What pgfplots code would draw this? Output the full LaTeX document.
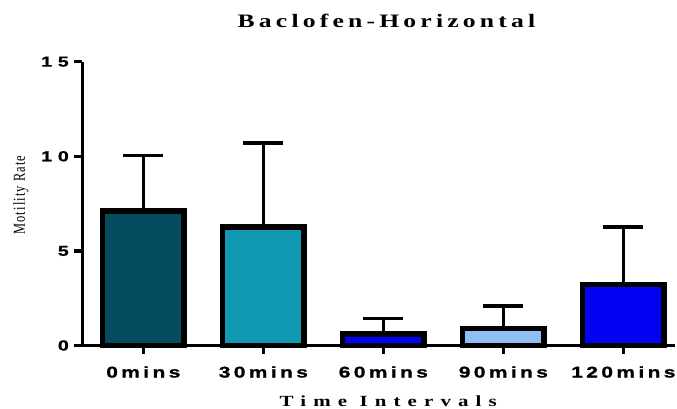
\documentclass[border=0pt]{standalone}
\usepackage{fontspec}
\usepackage{graphicx}
\usepackage{pgfplots}
\pgfplotsset{compat=1.18}
\setmainfont{Liberation Serif}
\newfontfamily\tickfont[FakeStretch=1.35,LetterSpace=22,FakeBold=1.2]{Liberation Sans Bold}
\newfontfamily\ytickfont[FakeStretch=1.35,LetterSpace=40,FakeBold=1.2]{Liberation Sans Bold}
\newfontfamily\titlefont[FakeStretch=1.35,LetterSpace=22]{Liberation Serif}
\newfontfamily\xlabfont[FakeStretch=1.35,LetterSpace=46]{Liberation Serif}
\newfontfamily\ylabfont[LetterSpace=9]{Liberation Serif}
\definecolor{c1}{RGB}{5,76,94}
\definecolor{c2}{RGB}{17,153,179}
\definecolor{c3}{RGB}{2,2,250}
\definecolor{c4}{RGB}{143,190,245}
\definecolor{c5}{RGB}{2,2,245}
\begin{document}
\begin{tikzpicture}
\begin{axis}[
  scale only axis,
  width=592.5bp, height=283.8bp,
  xmin=-0.507, xmax=4.43,
  ymin=0, ymax=15,
  clip=false,
  axis x line*=bottom,
  axis y line*=left,
  axis line style={line width=3.5bp, black},
  every tick/.style={line width=3.5bp, black},
  tick align=outside,
  major tick length=8bp,
  ytick={0,5,10,15},
  yticklabels={0,5,10,15},
  xtick={0,1,2,3,4},
  xticklabels={0mins,30mins,60mins,90mins,120mins},
  yticklabel style={font=\ytickfont\fontsize{14.5bp}{15bp}\selectfont, anchor=east, inner sep=0pt, xshift=-5.5bp},
  xticklabel style={font=\tickfont\fontsize{15.5bp}{16bp}\selectfont, anchor=base, inner sep=0pt, yshift=-24bp},
  ybar, bar width=0.68, bar shift=0pt,
  every axis plot/.append style={draw=black, line width=5.5bp},
  error bars/y dir=plus,
  error bars/y explicit,
  error bars/error mark=|,
  error bars/error bar style={line width=3.5bp, black},
  error bars/error mark options={line width=3.5bp, black, mark size=20bp},
]
\addplot[fill=c1] coordinates {(0,7.11) +- (0,2.92)};
\addplot[fill=c2] coordinates {(1,6.26) +- (0,4.43)};
\addplot[fill=c3] coordinates {(2,0.60) +- (0,0.84)};
\addplot[fill=c4] coordinates {(3,0.90) +- (0,1.19)};
\addplot[fill=c5] coordinates {(4,3.23) +- (0,3.03)};
\node[anchor=base, inner sep=0pt] at (rel axis cs:0.513,1) [yshift=34bp] {\titlefont\bfseries\fontsize{19bp}{20bp}\selectfont Baclofen-Horizontal};
\node[anchor=base, inner sep=0pt] at (rel axis cs:0.516,0) [yshift=-60.7bp] {\xlabfont\bfseries\fontsize{15.5bp}{16bp}\selectfont Time Intervals};
\node[anchor=base, inner sep=0pt, rotate=90] at ([xshift=-57.5bp]rel axis cs:0,0.53) {\scalebox{1}[1.35]{\ylabfont\fontsize{12.4bp}{13bp}\selectfont Motility Rate}};
\end{axis}
\pgfresetboundingbox
\path[use as bounding box] ([shift={(-82.5bp,-63.5bp)}]current axis.south west) rectangle ++(677bp,409bp);
\end{tikzpicture}
\end{document}
